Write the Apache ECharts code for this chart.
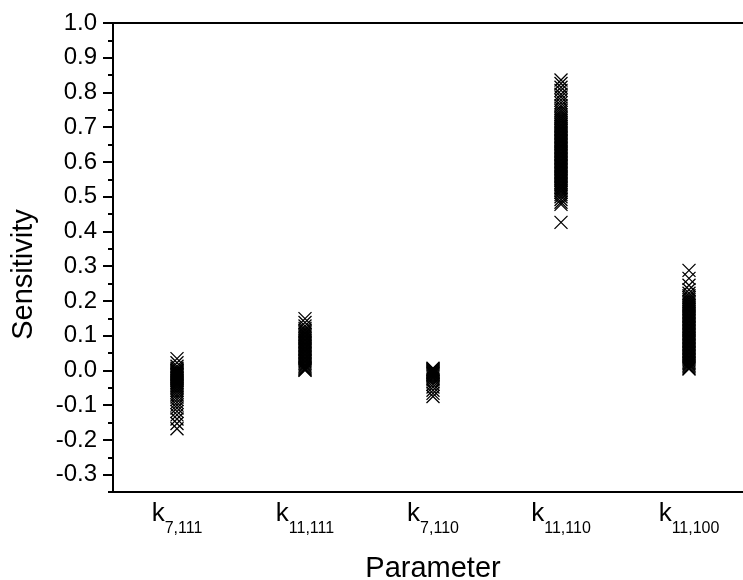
<!DOCTYPE html>
<html>
<head>
<meta charset="utf-8">
<script src="https://cdn.jsdelivr.net/npm/echarts@6/dist/echarts.min.js"></script>
<style>
html,body{margin:0;padding:0;background:#fff;}
#chart{width:743px;height:580px;}
</style>
</head>
<body>
<div id="chart"></div>
<script>
var categories = ['7,111', '11,111', '7,110', '11,110', '11,100'];
var yTicks = [-0.3, -0.2, -0.1, 0.0, 0.1, 0.2, 0.3, 0.4, 0.5, 0.6, 0.7, 0.8, 0.9, 1.0];
var yMinorTicks = [-0.35, -0.25, -0.15, -0.05, 0.05, 0.15, 0.25, 0.35, 0.45, 0.55, 0.65, 0.75, 0.85, 0.95];

var k7_111 = [0.034, 0.022, 0.012, 0.006, 0.002, -0.001, -0.004, -0.006, -0.009, -0.011, -0.014, -0.016,
  -0.019, -0.021, -0.024, -0.027, -0.030, -0.033, -0.036, -0.039, -0.043, -0.047, -0.052, -0.057,
  -0.063, -0.070, -0.077, -0.084, -0.092, -0.100, -0.108, -0.118, -0.128, -0.140, -0.153, -0.168];
var k11_111 = [0.149, 0.138, 0.128, 0.121, 0.116, 0.112, 0.108, 0.104, 0.100, 0.096, 0.092, 0.088,
  0.084, 0.080, 0.076, 0.072, 0.068, 0.064, 0.060, 0.056, 0.052, 0.048, 0.044, 0.040, 0.036,
  0.032, 0.028, 0.024, 0.020, 0.016, 0.012, 0.008, 0.005, 0.002, 0.000];
var k7_110 = [0.006, 0.004, 0.002, 0.000, -0.002, -0.004, -0.006, -0.008, -0.010, -0.012, -0.015,
  -0.018, -0.022, -0.027, -0.033, -0.040, -0.048, -0.057, -0.066, -0.075];
var k11_110 = [0.836, 0.826, 0.815, 0.806, 0.795, 0.787, 0.778, 0.770, 0.762, 0.755, 0.748, 0.742,
  0.736, 0.730, 0.725, 0.720, 0.715, 0.710, 0.706, 0.702, 0.698, 0.694, 0.690, 0.686, 0.682, 0.678,
  0.674, 0.670, 0.666, 0.662, 0.658, 0.654, 0.650, 0.646, 0.642, 0.638, 0.634, 0.630, 0.626, 0.622,
  0.618, 0.614, 0.610, 0.606, 0.602, 0.598, 0.594, 0.590, 0.586, 0.582, 0.578, 0.574, 0.570, 0.566,
  0.562, 0.558, 0.554, 0.550, 0.546, 0.542, 0.538, 0.534, 0.530, 0.526, 0.522, 0.517, 0.512, 0.506,
  0.500, 0.492, 0.484, 0.478, 0.426];
var k11_100 = [0.288, 0.265, 0.245, 0.232, 0.222, 0.215, 0.209, 0.204, 0.199, 0.195, 0.191, 0.187,
  0.183, 0.179, 0.175, 0.171, 0.167, 0.163, 0.159, 0.155, 0.151, 0.147, 0.143, 0.139, 0.135, 0.131,
  0.127, 0.123, 0.119, 0.115, 0.111, 0.107, 0.103, 0.099, 0.095, 0.091, 0.087, 0.083, 0.079, 0.075,
  0.071, 0.067, 0.063, 0.059, 0.055, 0.051, 0.047, 0.043, 0.039, 0.035, 0.031, 0.027, 0.023, 0.019,
  0.015, 0.011, 0.007, 0.004];

var seriesValues = [k7_111, k11_111, k7_110, k11_110, k11_100];
var points = [];
seriesValues.forEach(function (arr, i) {
  arr.forEach(function (v) { points.push([categories[i], v]); });
});

var FONT = "'Liberation Sans', Arial, Helvetica, sans-serif";
var chart = echarts.init(document.getElementById('chart'), null, {renderer: 'canvas'});
chart.setOption({
  animation: false,
  backgroundColor: '#fff',
  grid: {left: 113, right: -10, top: 23, bottom: 88, show: true, borderColor: '#000', borderWidth: 2,
    backgroundColor: 'transparent', containLabel: false, outerBoundsMode: 'none'},
  xAxis: {
    type: 'category',
    data: categories,
    boundaryGap: true,
    name: 'Parameter',
    nameLocation: 'middle',
    nameGap: 62,
    nameTextStyle: {fontFamily: FONT, fontSize: 29, color: '#000'},
    axisLine: {onZero: false, lineStyle: {color: '#000', width: 2}},
    axisTick: {alignWithLabel: true, length: 9, lineStyle: {color: '#000', width: 2}},
    splitLine: {show: false},
    axisLabel: {
      margin: 9,
      interval: 0,
      formatter: function (v) { return '{k|k}{s|' + v + '}'; },
      rich: {
        k: {fontFamily: FONT, fontSize: 26, color: '#000', verticalAlign: 'top'},
        s: {fontFamily: FONT, fontSize: 16, color: '#000', verticalAlign: 'bottom', padding: [20, 0, 0, 0]}
      }
    }
  },
  yAxis: [{
    type: 'value',
    min: -0.35,
    max: 1.0,
    name: 'Sensitivity',
    nameLocation: 'middle',
    nameGap: 75,
    nameTextStyle: {fontFamily: FONT, fontSize: 29, color: '#000', padding: [0, 34, 0, 0]},
    axisLine: {show: true, onZero: false, lineStyle: {color: '#000', width: 2}},
    axisTick: {show: true, length: 10, customValues: yTicks, lineStyle: {color: '#000', width: 2}},
    splitLine: {show: false},
    axisLabel: {
      margin: 16,
      customValues: yTicks,
      fontFamily: FONT, fontSize: 24, color: '#000',
      formatter: function (v) { return v.toFixed(1); }
    }
  }, {
    type: 'value',
    min: -0.35,
    max: 1.0,
    position: 'left',
    axisLine: {show: false, onZero: false},
    axisTick: {show: true, length: 5, customValues: yMinorTicks, lineStyle: {color: '#000', width: 2}},
    axisLabel: {show: false},
    splitLine: {show: false}
  }],
  series: [{
    type: 'scatter',
    data: points,
    symbol: 'path://M0,0L10,10M10,0L0,10',
    symbolSize: 13,
    itemStyle: {color: 'none', borderColor: '#000', borderWidth: 1.3, opacity: 1},
    large: false
  }]
});
</script>
</body>
</html>
